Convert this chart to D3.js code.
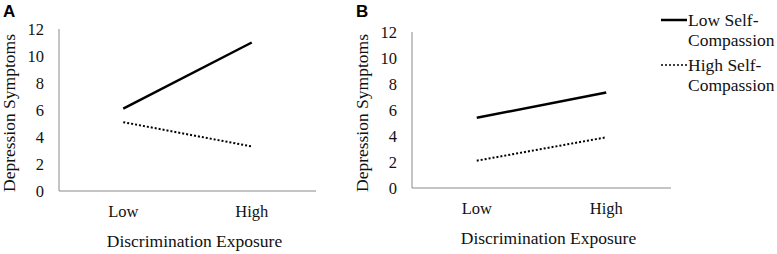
<!DOCTYPE html>
<html>
<head>
<meta charset="utf-8">
<script src="https://cdn.jsdelivr.net/npm/d3@7"></script>
<style>
  body { margin: 0; background: #fff; }
</style>
</head>
<body>
<svg class="main"></svg>
<script>
const categories = ["Low", "High"];
const yTicks = [0, 2, 4, 6, 8, 10, 12];
const seriesNames = ["Low Self-Compassion", "High Self-Compassion"];
// panel A
const lowSelfCompA = [6.1, 11.0];
const highSelfCompA = [5.1, 3.3];
// panel B
const lowSelfCompB = [5.4, 7.35];
const highSelfCompB = [2.1, 3.9];

const serif = "'Liberation Serif', 'Times New Roman', 'DejaVu Serif', serif";
const width = 777;
const height = 254;
const svg = d3.select("svg.main")
    .attr("width", width)
    .attr("height", height)
    .style("font-family", serif);

const drawPanel = (letter, lowVals, highVals, box) => {
    const g = svg.append("g");
    const x = d3.scalePoint()
        .domain(categories)
        .range([box.left, box.right])
        .padding(0.5);
    const y = d3.scaleLinear()
        .domain([0, 12])
        .range([box.bottom, box.top]);

    // axis lines
    g.append("line")
        .attr("x1", box.left).attr("x2", box.left)
        .attr("y1", y(12)).attr("y2", y(0))
        .style("stroke", "#8a8a8a").style("stroke-width", 1);
    g.append("line")
        .attr("x1", box.left).attr("x2", box.right)
        .attr("y1", y(0)).attr("y2", y(0))
        .style("stroke", "#8a8a8a").style("stroke-width", 1);

    // tick labels
    g.selectAll("text.ytick").data(yTicks).enter()
        .append("text")
        .attr("class", "ytick")
        .attr("x", box.left - 15)
        .attr("y", d => y(d))
        .attr("dy", "0.35em")
        .attr("text-anchor", "end")
        .style("font-family", serif)
        .style("font-size", "16.5px")
        .style("fill", "#111")
        .text(d => d);
    g.selectAll("text.xtick").data(categories).enter()
        .append("text")
        .attr("class", "xtick")
        .attr("x", d => x(d))
        .attr("y", box.bottom + 26)
        .attr("text-anchor", "middle")
        .style("font-family", serif)
        .style("font-size", "16.5px")
        .style("fill", "#111")
        .text(d => d);

    // titles
    g.append("text")
        .attr("transform", `translate(${box.left - 44}, ${(box.top + box.bottom) / 2 + 3}) rotate(-90)`)
        .attr("text-anchor", "middle")
        .style("font-family", serif)
        .style("font-size", "17.5px")
        .style("fill", "#111")
        .text("Depression Symptoms");
    g.append("text")
        .attr("x", (box.left + box.right) / 2 + 7)
        .attr("y", box.bottom + 56)
        .attr("text-anchor", "middle")
        .style("font-family", serif)
        .style("font-size", "17.5px")
        .style("fill", "#111")
        .text("Discrimination Exposure");

    g.append("text")
        .attr("x", box.left - 56)
        .attr("y", 17)
        .style("font-family", "'Liberation Sans', Arial, sans-serif")
        .style("font-weight", "bold")
        .style("font-size", "17px")
        .style("fill", "#000")
        .text(letter);

    const line = d3.line()
        .x((d, i) => x(categories[i]))
        .y(d => y(d));
    g.append("path")
        .attr("d", line(lowVals))
        .style("fill", "none")
        .style("stroke", "#000")
        .style("stroke-width", 2.5);
    g.append("path")
        .attr("d", line(highVals))
        .style("fill", "none")
        .style("stroke", "#000")
        .style("stroke-width", 2)
        .style("stroke-dasharray", "2,2");
};

drawPanel("A", lowSelfCompA, highSelfCompA, {left: 59, right: 316, top: 29, bottom: 191});
drawPanel("B", lowSelfCompB, highSelfCompB, {left: 412, right: 671, top: 32, bottom: 188});

// legend
const legend = svg.append("g");
const legendRows = [
    {name: seriesNames[0], y: 20, dash: null, w: 2.5},
    {name: seriesNames[1], y: 65, dash: "2,2", w: 1.5}
];
legendRows.forEach(r => {
    legend.append("line")
        .attr("x1", 661).attr("x2", 687)
        .attr("y1", r.y).attr("y2", r.y)
        .style("stroke", "#000")
        .style("stroke-width", r.w)
        .style("stroke-dasharray", r.dash);
    const parts = r.name.split("Self-");
    legend.append("text")
        .attr("x", 688)
        .attr("y", r.y + 6)
        .style("font-family", serif)
        .style("font-size", "17.5px")
        .style("fill", "#111")
        .text(parts[0] + "Self-");
    legend.append("text")
        .attr("x", 688)
        .attr("y", r.y + 26)
        .style("font-family", serif)
        .style("font-size", "17.5px")
        .style("fill", "#111")
        .text(parts[1]);
});
</script>
</body>
</html>
